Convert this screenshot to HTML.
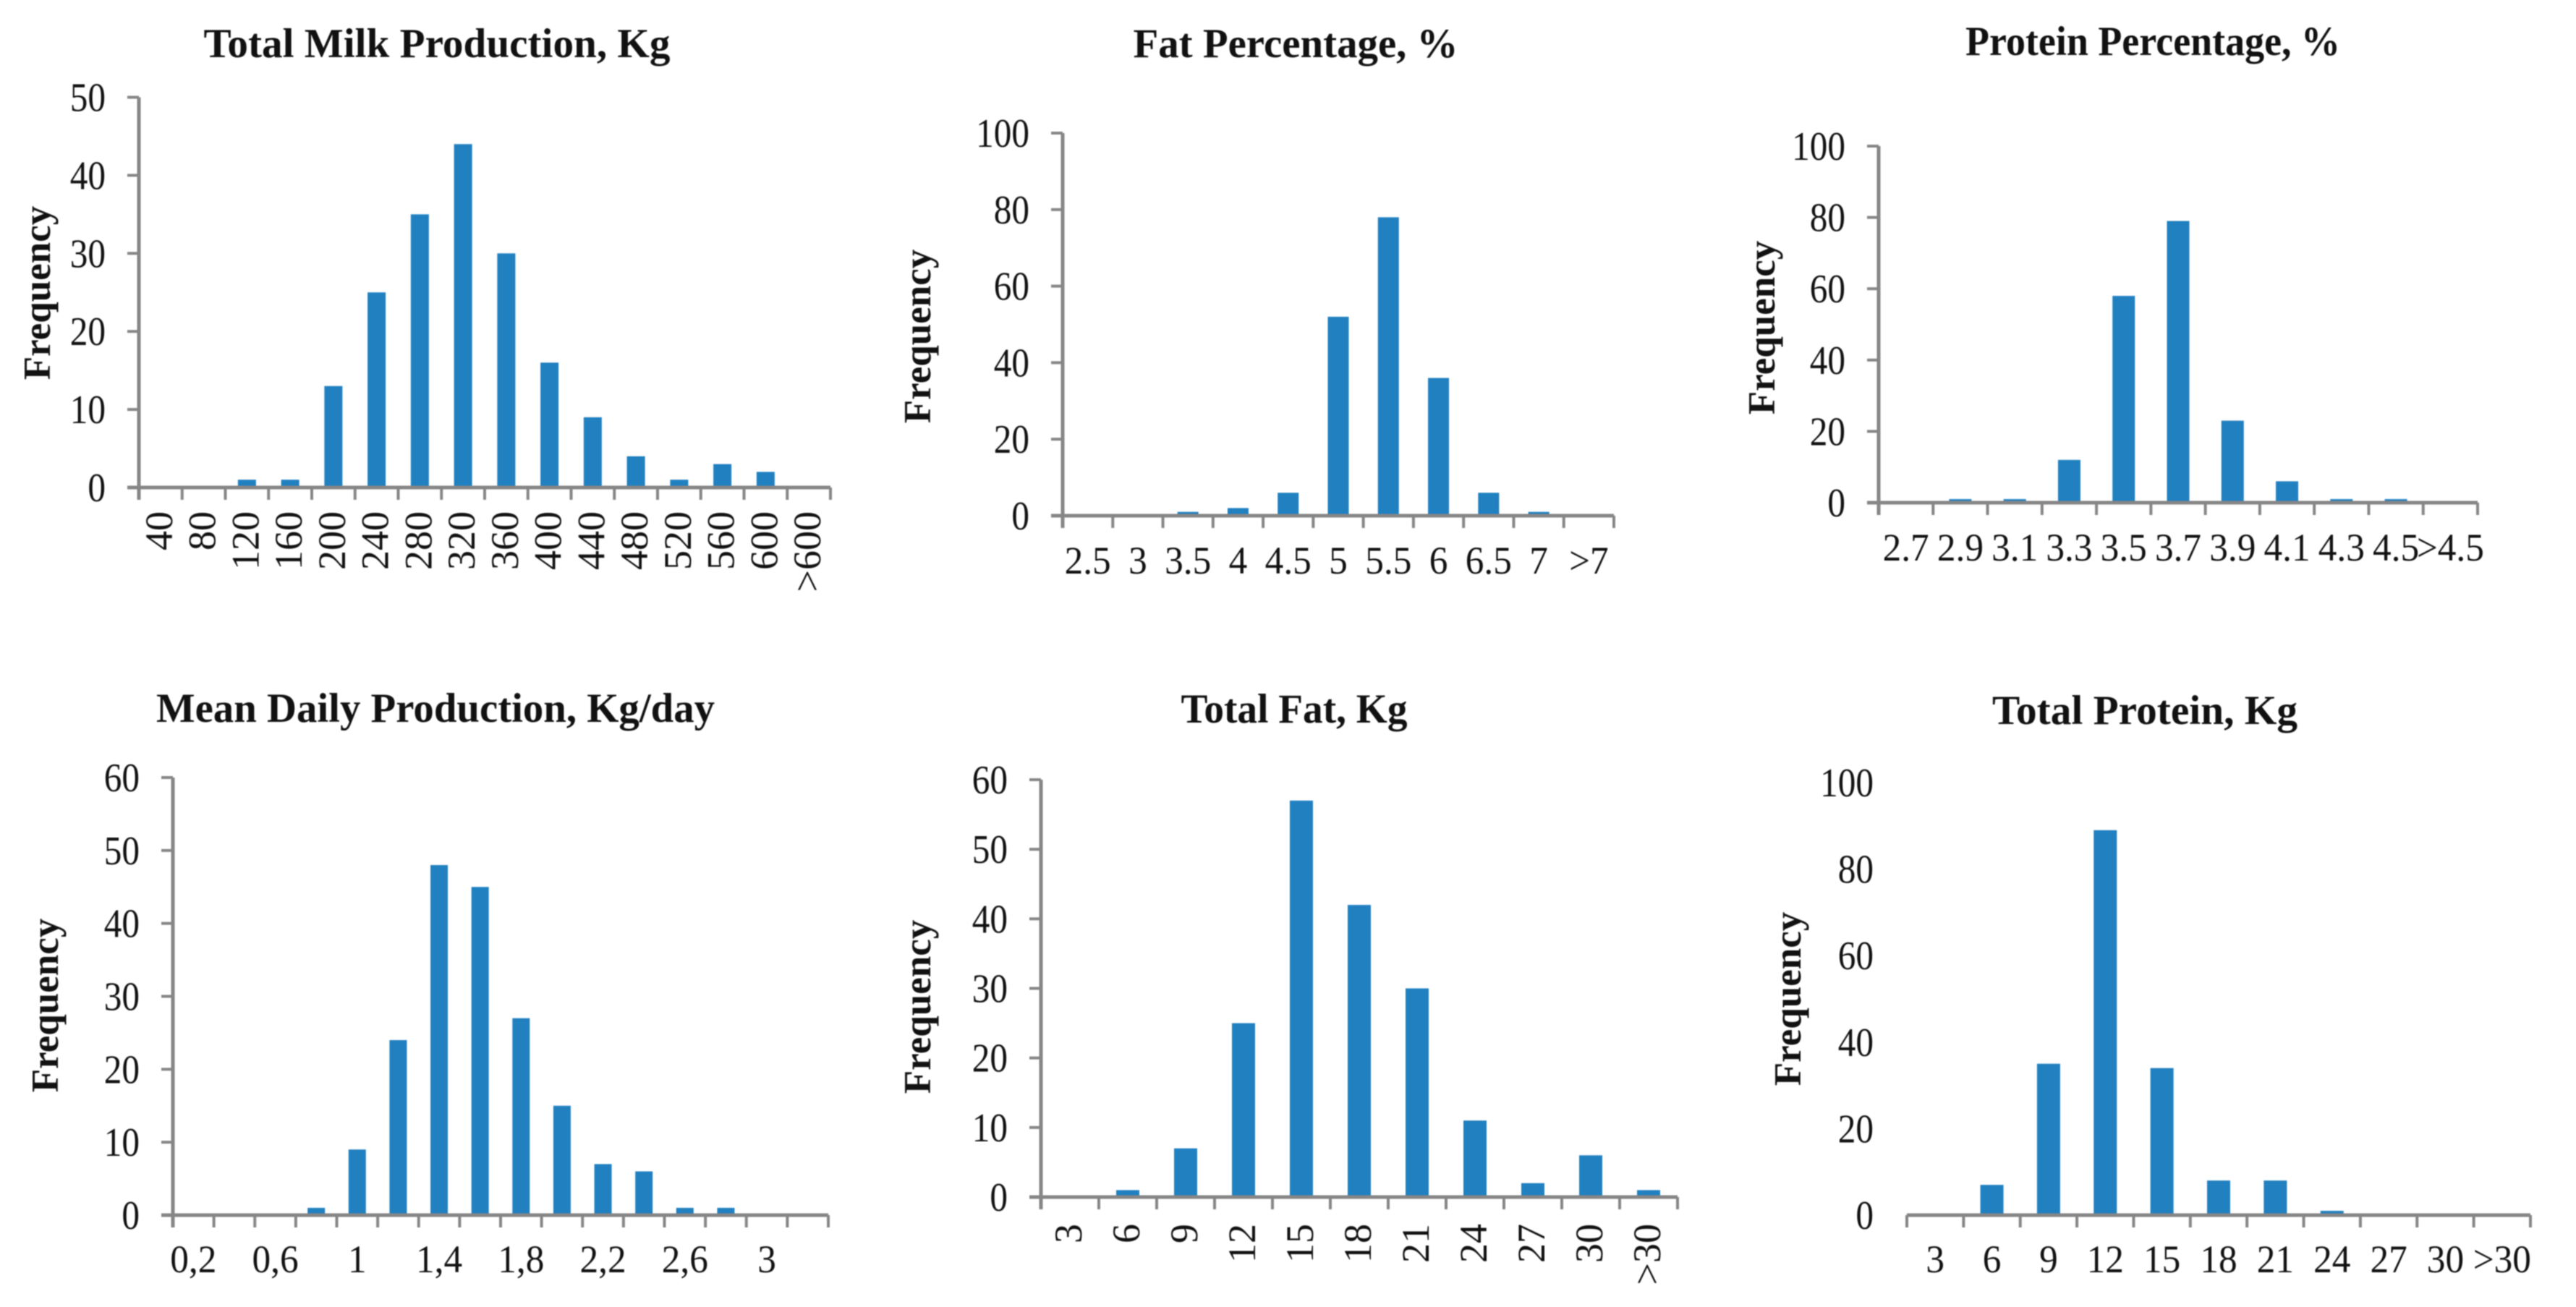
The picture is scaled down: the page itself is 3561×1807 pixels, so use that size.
<!DOCTYPE html>
<html>
<head>
<meta charset="utf-8">
<title>Frequency histograms</title>
<style>
html,body{margin:0;padding:0;background:#fff;width:3561px;height:1807px;overflow:hidden}
svg{display:block;filter:blur(0.8px)}
text{font-family:"Liberation Serif",serif;fill:#111}
</style>
</head>
<body>
<svg id="figure" xmlns="http://www.w3.org/2000/svg" width="3561" height="1807" viewBox="0 0 3561 1807"></svg>
<script>
const milkCategories = ["40","80","120","160","200","240","280","320","360","400","440","480","520","560","600",">600"];
const milkValues = [0,0,1,1,13,25,35,44,30,16,9,4,1,3,2,0];
const milkTicks = [0,10,20,30,40,50];

const fatPctCategories = ["2.5","3","3.5","4","4.5","5","5.5","6","6.5","7",">7"];
const fatPctValues = [0,0,1,2,6,52,78,36,6,1,0];
const fatPctTicks = [0,20,40,60,80,100];

const proteinPctCategories = ["2.7","2.9","3.1","3.3","3.5","3.7","3.9","4.1","4.3","4.5",">4.5"];
const proteinPctValues = [0,1,1,12,58,79,23,6,1,1,0];
const proteinPctTicks = [0,20,40,60,80,100];

const dailyCategories = ["0,2","","0,6","","1","","1,4","","1,8","","2,2","","2,6","","3",""];
const dailyValues = [0,0,0,1,9,24,48,45,27,15,7,6,1,1,0,0];
const dailyTicks = [0,10,20,30,40,50,60];

const totalFatCategories = ["3","6","9","12","15","18","21","24","27","30",">30"];
const totalFatValues = [0,1,7,25,57,42,30,11,2,6,1];
const totalFatTicks = [0,10,20,30,40,50,60];

const totalProteinCategories = ["3","6","9","12","15","18","21","24","27","30",">30"];
const totalProteinValues = [0,7,35,89,34,8,8,1,0,0,0];
const totalProteinTicks = [0,20,40,60,80,100];

const panels = [
  {id:"milk",title:"Total Milk Production, Kg",cats:milkCategories,vals:milkValues,ticks:milkTicks,
   x0:192,x1:1148,yTop:134.5,y0:674,barW:25,titleX:604,titleY:79,titleW:645,freqX:69,freqY:405,rotated:true,labelY:707,yAxis:true},
  {id:"fat-pct",title:"Fat Percentage, %",cats:fatPctCategories,vals:fatPctValues,ticks:fatPctTicks,
   x0:1469,x1:2231,yTop:184,y0:713,barW:29,titleX:1791,titleY:79,titleW:449,freqX:1286,freqY:465,rotated:false,labelY:793,yAxis:true},
  {id:"protein-pct",title:"Protein Percentage, %",cats:proteinPctCategories,vals:proteinPctValues,ticks:proteinPctTicks,
   x0:2597,x1:3425,yTop:202,y0:695,barW:31,titleX:2976,titleY:76,titleW:518,freqX:2453,freqY:453,rotated:false,labelY:775,yAxis:true},
  {id:"daily",title:"Mean Daily Production, Kg/day",cats:dailyCategories,vals:dailyValues,ticks:dailyTicks,
   x0:239,x1:1145,yTop:1075,y0:1680,barW:24,titleX:602,titleY:998,titleW:772,freqX:80,freqY:1390,rotated:false,labelY:1759,yAxis:true},
  {id:"total-fat",title:"Total Fat, Kg",cats:totalFatCategories,vals:totalFatValues,ticks:totalFatTicks,
   x0:1439,x1:2319,yTop:1078,y0:1655,barW:32,titleX:1789,titleY:999,titleW:313,freqX:1286,freqY:1392,rotated:true,labelY:1692,yAxis:true},
  {id:"total-protein",title:"Total Protein, Kg",cats:totalProteinCategories,vals:totalProteinValues,ticks:totalProteinTicks,
   x0:2636,x1:3498,yTop:1082,y0:1680,barW:32,titleX:2965,titleY:1001,titleW:422,freqX:2489,freqY:1381,rotated:false,labelY:1759,yAxis:false}
];

const NS = "http://www.w3.org/2000/svg";
const AXIS = "#868686";
const BAR = "#2080c0";
const svg = document.getElementById("figure");

function make(parent, tag, attrs, content) {
  const el = document.createElementNS(NS, tag);
  for (const k in attrs) el.setAttribute(k, attrs[k]);
  if (content !== undefined) el.textContent = content;
  parent.appendChild(el);
  return el;
}

panels.forEach(function (p) {
  const g = make(svg, "g", {});
  
  

  const maxTick = p.ticks[p.ticks.length - 1];
  const yScale = function (v) { return p.y0 - (v / maxTick) * (p.y0 - p.yTop); };
  const slot = (p.x1 - p.x0) / p.cats.length;
  const xScale = function (i) { return p.x0 + slot * i; };

  const title = make(g, "text", {x:p.titleX, y:p.titleY, "text-anchor":"middle", "font-size":57, "font-weight":"bold", textLength:p.titleW, lengthAdjust:"spacingAndGlyphs"}, p.title);
  
  

  const yTitle = make(g, "text", {transform:"translate(" + p.freqX + "," + p.freqY + ") rotate(-90)", "text-anchor":"middle", "font-size":53, "font-weight":"bold"}, "Frequency");
  
  

  p.vals.forEach(function (v, i) {
    if (v <= 0) return;
    const cx = xScale(i) + slot / 2;
    const bar = make(g, "rect", {x:cx - p.barW / 2, y:yScale(v), width:p.barW, height:p.y0 - yScale(v), fill:BAR});
    
    
  });

  if (p.yAxis) {
    const yLine = make(g, "line", {x1:p.x0, x2:p.x0, y1:p.yTop, y2:p.y0 + 17, stroke:AXIS, "stroke-width":5});
    
    
  }
  const xLine = make(g, "line", {x1:p.yAxis ? p.x0 - 16 : p.x0, x2:p.x1, y1:p.y0, y2:p.y0, stroke:AXIS, "stroke-width":5});
  
  

  p.ticks.forEach(function (t) {
    const y = yScale(t);
    if (p.yAxis) {
      const mark = make(g, "line", {x1:p.x0 - 16, x2:p.x0, y1:y, y2:y, stroke:AXIS, "stroke-width":4});
      
      
    }
    const label = make(g, "text", {transform:"translate(" + (p.x0 - 46) + "," + (y + 19) + ") scale(0.88,1)", "text-anchor":"end", "font-size":56}, String(t));
    
    
  });

  for (let i = 0; i <= p.cats.length; i++) {
    const x = xScale(i);
    const mark = make(g, "line", {x1:x, x2:x, y1:p.y0, y2:p.y0 + 17, stroke:AXIS, "stroke-width":4});
    
    
  }

  p.cats.forEach(function (c, i) {
    if (!c) return;
    const cx = xScale(i) + slot / 2;
    const attrs = p.rotated
      ? {transform:"translate(" + (cx + 16) + "," + p.labelY + ") rotate(-90)", "text-anchor":"end", "font-size":54}
      : {transform:"translate(" + cx + "," + p.labelY + ") scale(0.95,1)", "text-anchor":"middle", "font-size":54};
    const label = make(g, "text", attrs, c);
    
    
  });
});
</script>
</body>
</html>
